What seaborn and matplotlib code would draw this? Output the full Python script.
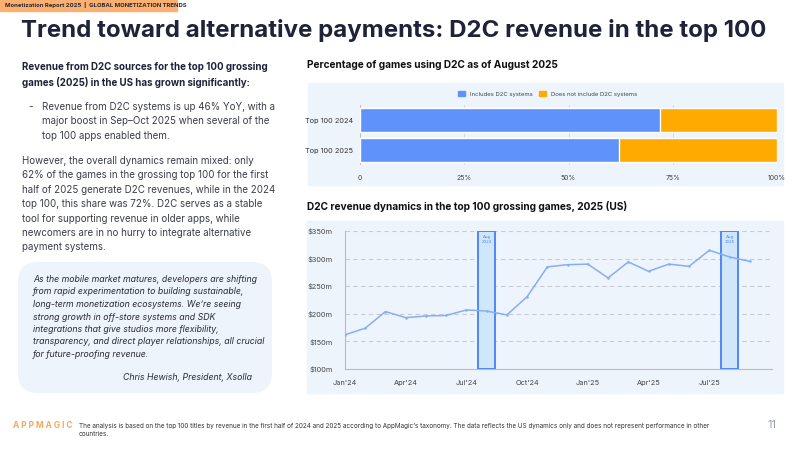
import seaborn as sns
import matplotlib.pyplot as plt
import pandas as pd
from matplotlib.patches import Rectangle, FancyBboxPatch

# ---- data ----
bar_groups = ["Top 100 2024", "Top 100 2025"]
share_d2c = [72, 62]
share_no_d2c = [28, 38]

months = ["Jan'24", "Feb'24", "Mar'24", "Apr'24", "May'24", "Jun'24", "Jul'24",
          "Aug'24", "Sep'24", "Oct'24", "Nov'24", "Dec'24", "Jan'25", "Feb'25",
          "Mar'25", "Apr'25", "May'25", "Jun'25", "Jul'25", "Aug'25", "Sep'25"]
revenue_m = [162, 174, 204, 193, 196, 197, 207, 205, 198, 231, 285, 289,
             290, 265, 294, 277, 290, 286, 315, 303, 295]
highlight_months = ["Aug'24", "Aug'25"]
highlight_labels = ["Aug\n2024", "Aug\n2025"]

y_ticks = [100, 150, 200, 250, 300, 350]
x_tick_months = ["Jan'24", "Apr'24", "Jul'24", "Oct'24", "Jan'25", "Apr'25", "Jul'25"]

BLUE = "#5f92fa"
ORANGE = "#ffaa00"
LINE = "#86aef5"
PANEL = "#eef4fc"
NAVY = "#1f2238"
TEXT = "#3a3d4a"

sns.set_theme(style="white")
plt.rcParams["font.family"] = ["Inter", "DejaVu Sans"]

fig = plt.figure(figsize=(8, 4.5), dpi=100)
fig.patch.set_facecolor("white")

# header strip
fig.patches.append(Rectangle((0, 1 - 11 / 450), 177 / 800, 11 / 450,
                             transform=fig.transFigure, color="#fbb072", zorder=0))
fig.text(5 / 800, 1 - 5.5 / 450, "Monetization Report 2025  |  GLOBAL MONETIZATION TRENDS",
         fontsize=4.3, fontweight="bold", color="#2a2a2a", va="center")

fig.text(21 / 800, 1 - 31 / 450,
         "Trend toward alternative payments: D2C revenue in the top 100",
         fontsize=17.3, fontweight="bold", color=NAVY, va="center")

# left column text
fig.text(22 / 800, 1 - 62 / 450,
         "Revenue from D2C sources for the top 100 grossing\n"
         "games (2025) in the US has grown significantly:",
         fontsize=7, fontweight="bold", color=NAVY, va="top", linespacing=1.55)
fig.text(28 / 800, 1 - 102 / 450, "-", fontsize=7, color=TEXT, va="top")
fig.text(42 / 800, 1 - 102 / 450,
         "Revenue from D2C systems is up 46% YoY, with a\n"
         "major boost in Sep\u2013Oct 2025 when several of the\n"
         "top 100 apps enabled them.",
         fontsize=7, color=TEXT, va="top", linespacing=1.55)
fig.text(22 / 800, 1 - 156 / 450,
         "However, the overall dynamics remain mixed: only\n"
         "62% of the games in the grossing top 100 for the first\n"
         "half of 2025 generate D2C revenues, while in the 2024\n"
         "top 100, this share was 72%. D2C serves as a stable\n"
         "tool for supporting revenue in older apps, while\n"
         "newcomers are in no hurry to integrate alternative\n"
         "payment systems.",
         fontsize=7, color=TEXT, va="top", linespacing=1.55)

# quote box
fig.patches.append(FancyBboxPatch((0.30, 0.69), 2.30, 1.07,
                                  boxstyle="round,pad=0.12,rounding_size=0.2",
                                  transform=fig.dpi_scale_trans,
                                  facecolor=PANEL, edgecolor="none", zorder=0))
fig.text(33 / 800, 1 - 275 / 450,
         "As the mobile market matures, developers are shifting\n"
         "from rapid experimentation to building sustainable,\n"
         "long-term monetization ecosystems. We\u2019re seeing\n"
         "strong growth in off-store systems and SDK\n"
         "integrations that give studios more flexibility,\n"
         "transparency, and direct player relationships, all crucial\n"
         "for future-proofing revenue.",
         fontsize=6.3, style="italic", color="#2a2a35", va="top", linespacing=1.5)
fig.text(252 / 800, 1 - 377 / 450, "Chris Hewish, President, Xsolla",
         fontsize=6.3, style="italic", color="#2a2a35", va="center", ha="right")

# section titles
fig.text(307 / 800, 1 - 65 / 450, "Percentage of games using D2C as of August 2025",
         fontsize=7.3, fontweight="bold", color="#111111", va="center")
fig.text(307 / 800, 1 - 206 / 450,
         "D2C revenue dynamics in the top 100 grossing games, 2025 (US)",
         fontsize=7.3, fontweight="bold", color="#111111", va="center")

# panels
fig.patches.append(Rectangle((308 / 800, 1 - 185 / 450), 475 / 800, 102 / 450,
                             transform=fig.transFigure, color=PANEL, zorder=0))
fig.patches.append(Rectangle((307 / 800, 1 - 393 / 450), 476 / 800, 172 / 450,
                             transform=fig.transFigure, color=PANEL, zorder=0))

# ---- stacked bar chart ----
ax1 = fig.add_axes([360 / 800, 1 - 165 / 450, 417 / 800, 60 / 450])
ax1.set_zorder(2)
ax1.set_facecolor(PANEL)
bar_df = pd.DataFrame({"group": bar_groups, "d2c": share_d2c, "no_d2c": share_no_d2c})
bar_df["total"] = bar_df["d2c"] + bar_df["no_d2c"]
sns.barplot(data=bar_df, y="group", x="total", color=ORANGE, width=0.8,
            saturation=1, ax=ax1, zorder=2)
sns.barplot(data=bar_df, y="group", x="d2c", color=BLUE, width=0.8,
            saturation=1, ax=ax1, zorder=3)
ax1.set_xlim(0, 100)
ax1.set_xticks([0, 25, 50, 75, 100])
ax1.set_xticklabels(["0", "25%", "50%", "75%", "100%"])
ax1.set_xlabel("")
ax1.set_ylabel("")
ax1.grid(axis="x", color="#d7d9de", lw=0.7, zorder=0)
for s in ax1.spines.values():
    s.set_visible(False)
ax1.axvline(0, color="#b8bcc4", lw=0.8, zorder=1)
ax1.tick_params(axis="x", labelsize=5, colors="#444444", pad=7, length=0)
ax1.tick_params(axis="y", labelsize=5.3, colors="#333333", pad=5, length=0)
handles = [Rectangle((0, 0), 1, 1, color=BLUE), Rectangle((0, 0), 1, 1, color=ORANGE)]
ax1.legend(handles, ["Includes D2C systems", "Does not include D2C systems"],
           loc="lower center", bbox_to_anchor=(0.45, 1.05), ncol=2, frameon=False,
           fontsize=4.3, handlelength=1.1, handleheight=1.1, columnspacing=1.2,
           handletextpad=0.8, labelcolor="#444444")

# ---- line chart ----
ax2 = fig.add_axes([345 / 800, 1 - 369 / 450, 427 / 800, 138 / 450])
ax2.set_zorder(2)
ax2.set_facecolor(PANEL)
line_df = pd.DataFrame({"idx": range(len(months)), "month": months, "rev": revenue_m})
sns.lineplot(data=line_df, x="idx", y="rev", color=LINE, lw=1.1, marker="o",
             markersize=1.8, markeredgewidth=0, ax=ax2, zorder=4)
for m, lab in zip(highlight_months, highlight_labels):
    i = months.index(m)
    ax2.axvspan(i - 0.42, i + 0.42, facecolor="#cfe6fb", edgecolor="#4f86f7",
                lw=1.4, zorder=3)
    ax2.text(i, 342, lab, fontsize=3, color="#4f86f7", ha="center", va="top",
             linespacing=1.1, zorder=5)
ax2.set_ylim(100, 350)
ax2.set_xlim(0, 21.1)
ax2.set_yticks(y_ticks)
ax2.set_yticklabels([f"${v}m" for v in y_ticks])
ax2.set_xticks([months.index(m) for m in x_tick_months])
ax2.set_xticklabels(x_tick_months)
ax2.set_xlabel("")
ax2.set_ylabel("")
for v in y_ticks[1:]:
    ax2.axhline(v, color="#c9ccd2", lw=0.8, ls=(0, (4, 3)), zorder=1)
for s in ["top", "right"]:
    ax2.spines[s].set_visible(False)
for s in ["left", "bottom"]:
    ax2.spines[s].set_color("#b8bcc4")
    ax2.spines[s].set_linewidth(0.8)
ax2.tick_params(axis="both", labelsize=5.3, colors="#444444", length=0)
ax2.tick_params(axis="x", pad=8)
ax2.tick_params(axis="y", pad=9)

# footer
fig.text(13 / 800, 1 - 425 / 450, "A P P M A G I C", fontsize=6.0, fontweight="bold",
         color="#f6a75e", va="center")
fig.text(79 / 800, 1 - 423 / 450,
         "The analysis is based on the top 100 titles by revenue in the first half of 2024 and 2025 "
         "according to AppMagic\u2019s taxonomy. The data reflects the US dynamics only and does not "
         "represent performance in other\ncountries.",
         fontsize=4.6, color="#333333", va="top", linespacing=1.5)
fig.text(777 / 800, 1 - 425 / 450, "11", fontsize=8, color="#9aa0aa", va="center", ha="right")

fig.savefig("out.png", dpi=100)
